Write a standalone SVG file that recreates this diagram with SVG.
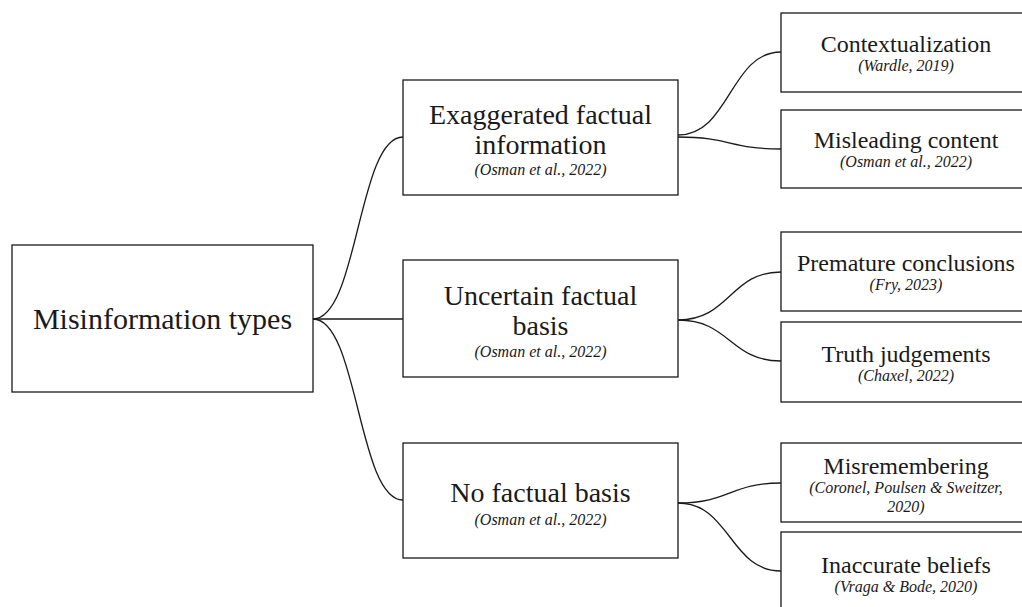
<svg xmlns="http://www.w3.org/2000/svg" width="1022" height="607" viewBox="0 0 1022 607">
  <style>
    .box { fill: #ffffff; stroke: #1a1a1a; stroke-width: 1.3; }
    .link { fill: none; stroke: #1a1a1a; stroke-width: 1.3; }
    text { font-family: "Liberation Serif", "DejaVu Serif", serif; fill: #1a1a1a; text-anchor: middle; }
    .root { font-size: 30px; }
    .mid { font-size: 28px; }
    .leaf { font-size: 24px; }
    .cite { font-size: 16px; font-style: italic; }
  </style>
  <rect width="1022" height="607" fill="#ffffff"/>

  <!-- connectors -->
  <g id="connectors">
    <path class="link" d="M313,319 C358,319 358,137 403,137"/>
    <path class="link" d="M313,319 L403,319"/>
    <path class="link" d="M313,319 C358,319 358,500 403,500"/>

    <path class="link" d="M678,135 C730,135 730,52 781,52"/>
    <path class="link" d="M678,137 C730,137 730,149 781,149"/>

    <path class="link" d="M678,320 C730,320 730,272 781,272"/>
    <path class="link" d="M678,320 C730,320 730,361 781,361"/>

    <path class="link" d="M678,503 C730,503 730,483 781,483"/>
    <path class="link" d="M678,503 C730,503 730,571 781,571"/>
  </g>

  <!-- root -->
  <g id="root">
    <rect class="box" x="12" y="245" width="301" height="147"/>
    <text class="root" x="162.5" y="329">Misinformation types</text>
  </g>

  <!-- second level -->
  <g id="exaggerated">
    <rect class="box" x="403" y="80" width="275" height="115"/>
    <text class="mid" x="540.5" y="124">Exaggerated factual</text>
    <text class="mid" x="540.5" y="154">information</text>
    <text class="cite" x="540.5" y="175">(Osman et al., 2022)</text>
  </g>
  <g id="uncertain">
    <rect class="box" x="403" y="260" width="275" height="117"/>
    <text class="mid" x="540.5" y="305">Uncertain factual</text>
    <text class="mid" x="540.5" y="335">basis</text>
    <text class="cite" x="540.5" y="357">(Osman et al., 2022)</text>
  </g>
  <g id="nobasis">
    <rect class="box" x="403" y="443" width="275" height="115"/>
    <text class="mid" x="540.5" y="502">No factual basis</text>
    <text class="cite" x="540.5" y="525">(Osman et al., 2022)</text>
  </g>

  <!-- third level -->
  <g id="contextualization">
    <rect class="box" x="781" y="13" width="250" height="79"/>
    <text class="leaf" x="906" y="52">Contextualization</text>
    <text class="cite" x="906" y="71">(Wardle, 2019)</text>
  </g>
  <g id="misleading">
    <rect class="box" x="781" y="110" width="250" height="78"/>
    <text class="leaf" x="906" y="148">Misleading content</text>
    <text class="cite" x="906" y="167">(Osman et al., 2022)</text>
  </g>
  <g id="premature">
    <rect class="box" x="781" y="232" width="250" height="79"/>
    <text class="leaf" x="906" y="271">Premature conclusions</text>
    <text class="cite" x="906" y="290">(Fry, 2023)</text>
  </g>
  <g id="truth">
    <rect class="box" x="781" y="322" width="250" height="80"/>
    <text class="leaf" x="906" y="362">Truth judgements</text>
    <text class="cite" x="906" y="381">(Chaxel, 2022)</text>
  </g>
  <g id="misremembering">
    <rect class="box" x="781" y="443" width="250" height="79"/>
    <text class="leaf" x="906" y="474">Misremembering</text>
    <text class="cite" x="906" y="493">(Coronel, Poulsen &amp; Sweitzer,</text>
    <text class="cite" x="906" y="512">2020)</text>
  </g>
  <g id="inaccurate">
    <rect class="box" x="781" y="532" width="250" height="90"/>
    <text class="leaf" x="906" y="573">Inaccurate beliefs</text>
    <text class="cite" x="906" y="592">(Vraga &amp; Bode, 2020)</text>
  </g>
</svg>
